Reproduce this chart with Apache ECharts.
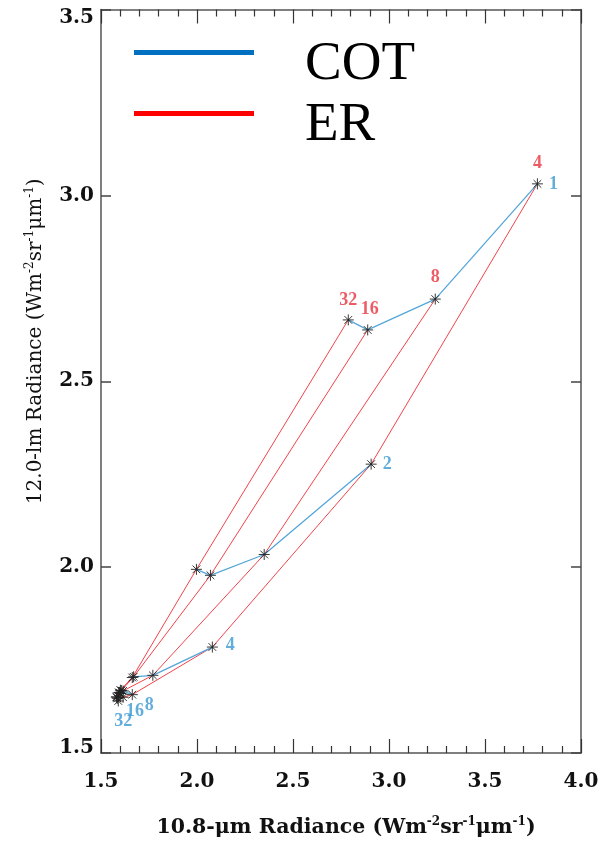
<!DOCTYPE html>
<html>
<head>
<meta charset="utf-8">
<script src="https://cdn.jsdelivr.net/npm/echarts@6/dist/echarts.min.js"></script>
<style>
  html, body { margin: 0; padding: 0; background: #fff; }
  #chart { width: 601px; height: 841px; }
</style>
</head>
<body>
<div id="chart"></div>
<script>
// Lookup table: cloud optical thickness (rows) x effective radius (columns)
const cotValues = [1, 2, 4, 8, 16, 32];
const erValues = [4, 8, 16, 32];

// 10.8-um radiance, rows = COT, columns = ER
const rad108 = [
  [3.773, 3.241, 2.889, 2.788],
  [2.907, 2.350, 2.070, 1.997],
  [2.080, 1.770, 1.670, 1.663],
  [1.663, 1.615, 1.606, 1.601],
  [1.615, 1.601, 1.596, 1.593],
  [1.590, 1.585, 1.582, 1.580]
];
// 12.0-um radiance, rows = COT, columns = ER
const rad120 = [
  [3.031, 2.721, 2.638, 2.665],
  [2.277, 2.034, 1.978, 1.994],
  [1.785, 1.709, 1.705, 1.703],
  [1.657, 1.667, 1.668, 1.669],
  [1.650, 1.660, 1.662, 1.663],
  [1.640, 1.647, 1.650, 1.651]
];

const xTicks = [1.5, 4.0, 0.5];   // min, max, step
const yTicks = [1.5, 3.5, 0.5];

const SERIF = '"Liberation Serif", "DejaVu Serif", serif';
const WIDE_SERIF = '"DejaVu Serif", "Liberation Serif", serif';
const BLUE_LINE = '#55a6d9';
const RED_LINE = '#f0444c';
const BLUE_TEXT = '#3b98d3';
const RED_TEXT = '#ea323e';

// constant-COT curves (vary ER), broken between curves
const cotLineData = [];
cotValues.forEach((c, i) => {
  erValues.forEach((e, j) => cotLineData.push([rad108[i][j], rad120[i][j]]));
  cotLineData.push('-');
});
// constant-ER curves (vary COT)
const erLineData = [];
erValues.forEach((e, j) => {
  cotValues.forEach((c, i) => erLineData.push([rad108[i][j], rad120[i][j]]));
  erLineData.push('-');
});
// all table nodes
const nodeData = [];
cotValues.forEach((c, i) => erValues.forEach((e, j) => nodeData.push([rad108[i][j], rad120[i][j]])));

// COT labels beside the smallest-ER end of each COT curve
const cotLabelOffsets = [[16, 0], [16, 0], [18, -2], [17, 11], [12, 14], [5, 20]];
const cotLabelData = cotValues.map((c, i) => ({
  value: [rad108[i][0], rad120[i][0]],
  name: String(c),
  label: { offset: cotLabelOffsets[i] }
}));
// ER labels above the COT = 1 end of each ER curve
const erLabelOffsets = [[0, -21], [0, -22], [2, -21], [0, -20]];
const erLabelData = erValues.map((e, j) => ({
  value: [rad108[0][j], rad120[0][j]],
  name: String(e),
  label: { offset: erLabelOffsets[j] }
}));

const asterisk = 'path://M0,5L10,5M5,0L5,10M1.5,1.5L8.5,8.5M8.5,1.5L1.5,8.5';
// legend swatch: a 120x5 bar sitting at the top of a taller (empty) box,
// so the legend text lines up a little below the bar
const legendBar = 'path://M0,0L120,0L120,5L0,5Z M0,30L0,30';
const axisLineStyle = { color: '#555', width: 1.5 };
const tickFont = { fontFamily: WIDE_SERIF, fontWeight: 'bold', fontSize: 20, color: '#111' };

function nameRich(weight) {
  return {
    s: { fontFamily: WIDE_SERIF, fontWeight: weight, fontSize: 12, color: '#111', verticalAlign: 'top', lineHeight: 12 }
  };
}

function xAxisCfg(pos, labels) {
  return {
    type: 'value', position: pos,
    min: xTicks[0], max: xTicks[1], interval: xTicks[2],
    axisLine: { show: true, onZero: false, lineStyle: axisLineStyle },
    axisTick: { show: true, inside: true, length: 14, lineStyle: { color: '#333', width: 1.2 } },
    minorTick: { show: true, splitNumber: 5, length: 7, lineStyle: { color: '#333', width: 1.2 } },
    splitLine: { show: false },
    axisLabel: labels ? Object.assign({ show: true, margin: 19, formatter: v => v.toFixed(1) }, tickFont) : { show: false }
  };
}
function yAxisCfg(pos, labels) {
  return {
    type: 'value', position: pos,
    min: yTicks[0], max: yTicks[1], interval: yTicks[2],
    axisLine: { show: true, onZero: false, lineStyle: axisLineStyle },
    axisTick: { show: true, inside: true, length: 10, lineStyle: { color: '#444', width: 1.5 } },
    minorTick: { show: false },
    splitLine: { show: false },
    axisLabel: labels ? Object.assign({
      show: true, margin: 7,
      // end labels are nudged inside the frame
      formatter: v => {
        const t = v.toFixed(1);
        if (v === yTicks[1]) return '{hi|' + t + '}';
        if (v === yTicks[0]) return '{lo|' + t + '}';
        return t;
      },
      rich: {
        hi: Object.assign({ padding: [16, 0, 0, 0] }, tickFont),
        lo: Object.assign({ padding: [0, 0, 10, 0] }, tickFont)
      }
    }, tickFont) : { show: false }
  };
}

const xMain = xAxisCfg('bottom', true);
xMain.name = '10.8-μm Radiance (Wm{s|-2}sr{s|-1}μm{s|-1})';
xMain.nameLocation = 'middle';
xMain.nameGap = 63;
xMain.nameTextStyle = { fontFamily: WIDE_SERIF, fontWeight: 'bold', fontSize: 20.5, color: '#111', lineHeight: 24, padding: [0, 0, 0, 10], rich: nameRich('bold') };

const yMain = yAxisCfg('left', true);
yMain.name = '12.0-lm Radiance (Wm{s|-2}sr{s|-1}μm{s|-1})';
yMain.nameLocation = 'middle';
yMain.nameGap = 53;
yMain.nameTextStyle = { fontFamily: WIDE_SERIF, fontWeight: 'normal', fontSize: 20, color: '#111', lineHeight: 24, padding: [0, 0, 0, 80], rich: nameRich('normal') };

const chart = echarts.init(document.getElementById('chart'), null, { renderer: 'canvas' });
chart.setOption({
  animation: false,
  backgroundColor: '#fff',
  grid: { left: 101, right: 20, top: 9.5, bottom: 88, containLabel: false, outerBoundsMode: 'none' },
  xAxis: [xMain, xAxisCfg('top', false)],
  yAxis: [yMain, yAxisCfg('right', false)],
  legend: {
    orient: 'vertical', left: 129, top: 32.5,
    icon: legendBar, itemWidth: 120, itemHeight: 30, itemGap: 6,
    itemStyle: { borderWidth: 0 },
    textStyle: { fontFamily: SERIF, fontSize: 55, color: '#000', lineHeight: 30, padding: [0, 0, 0, 46] },
    data: [
      { name: 'COT', itemStyle: { color: '#0070c0', borderWidth: 0 } },
      { name: 'ER', itemStyle: { color: '#ff0000', borderWidth: 0 } }
    ]
  },
  series: [
    {
      name: 'ER', type: 'line', data: erLineData, connectNulls: false,
      showSymbol: false, symbol: 'none', color: RED_LINE,
      lineStyle: { color: RED_LINE, width: 1 }, z: 2
    },
    {
      name: 'COT', type: 'line', data: cotLineData, connectNulls: false,
      showSymbol: false, symbol: 'none', color: BLUE_LINE,
      lineStyle: { color: BLUE_LINE, width: 1.3 }, z: 3
    },
    {
      name: 'nodes', type: 'scatter', data: nodeData,
      symbol: asterisk, symbolSize: 11,
      itemStyle: { color: 'none', borderColor: '#222', borderWidth: 1, opacity: 0.9 }, z: 4
    },
    {
      name: 'cotLabels', type: 'scatter', data: cotLabelData, symbolSize: 0,
      label: { show: true, position: 'inside', formatter: p => p.name, fontFamily: SERIF, fontWeight: 'bold', fontSize: 18, color: BLUE_TEXT }, z: 5
    },
    {
      name: 'erLabels', type: 'scatter', data: erLabelData, symbolSize: 0,
      label: { show: true, position: 'inside', formatter: p => p.name, fontFamily: SERIF, fontWeight: 'bold', fontSize: 18, color: RED_TEXT }, z: 5
    }
  ]
});
</script>
</body>
</html>
